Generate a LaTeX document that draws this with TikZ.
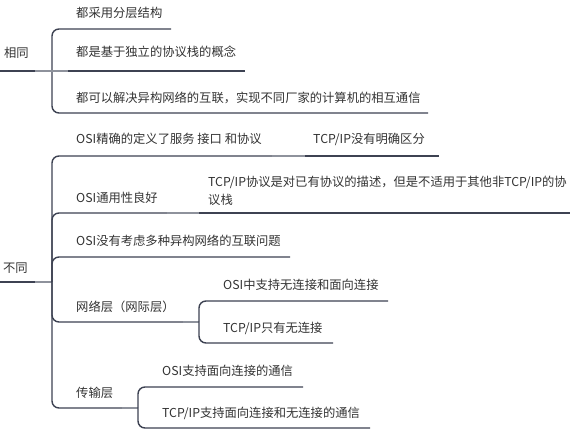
\documentclass[tikz,border=0pt]{standalone}
\usepackage{fontspec}
\setmainfont{Noto Sans CJK SC}
\definecolor{lc}{HTML}{3D4252}
\definecolor{lg}{HTML}{8E929C}
\definecolor{tc}{HTML}{333333}
\begin{document}
\begin{tikzpicture}[x=1pt,y=-1pt,
  txt/.style={anchor=base west,inner sep=0pt,text=tc,font=\fontsize{12.3}{18}\selectfont},
  ln/.style={draw=lc,line width=1.4pt},
  lk/.style={draw=lg,line width=1.4pt},
  br/.style={ln,rounded corners=7pt}]
\useasboundingbox (0,0) rectangle (571,430);
\fill[white] (0,0) rectangle (571,430);

% ---------- 相同 ----------
\node[txt] (s0) at (4,58) {相同};
\node[txt] (s1) at (76,18) {都采用分层结构};
\node[txt] (s2) at (76,57) {都是基于独立的协议栈的概念};
\node[txt] (s3) at (76,103) {都可以解决异构网络的互联，实现不同厂家的计算机的相互通信};

\coordinate (s0L) at (0,71);
\coordinate (s0R) at (35,71);
\coordinate (sJ) at (52,71);
\coordinate (s2J) at (68,71);
\coordinate (s1E) at (171,29);
\coordinate (s2E) at (245,71);
\coordinate (s3E) at (428,113);

\draw[ln] (s0L) -- (s0R);
\draw[br] (sJ) -- (sJ |- s1E) -- (s1E);
\draw[br] (sJ) -- (sJ |- s3E) -- (s3E);
\draw[ln] (s2J) -- (s2E);
\draw[lk] (s0R) -- (s2J);

% ---------- 不同 ----------
\node[txt] (d0) at (3,273) {不同};
\node[txt] (d1) at (76,144) {OSI精确的定义了服务 接口 和协议};
\node[txt] (d1a) at (313,144) {TCP/IP没有明确区分};
\node[txt] (d2) at (76,203) {OSI通用性良好};
\node[txt,anchor=west,align=left] (d2a) at (208,191) {TCP/IP协议是对已有协议的描述，但是不适用于其他非TCP/IP的协\\议栈};
\node[txt] (d3) at (76,246) {OSI没有考虑多种异构网络的互联问题};
\node[txt] (d4) at (76,312) {网络层（网际层）};
\node[txt] (d4a) at (223,290) {OSI中支持无连接和面向连接};
\node[txt] (d4b) at (223,333) {TCP/IP只有无连接};
\node[txt] (d5) at (76,398) {传输层};
\node[txt] (d5a) at (162,376) {OSI支持面向连接的通信};
\node[txt] (d5b) at (162,418) {TCP/IP支持面向连接和无连接的通信};

\coordinate (d0L) at (0,282);
\coordinate (d0R) at (35,282);
\coordinate (dJ) at (52,282);
\coordinate (d1E) at (272,156);
\coordinate (d1aS) at (305,156);
\coordinate (d1aE) at (439,156);
\coordinate (d2E) at (167,213);
\coordinate (d2aS) at (199,213);
\coordinate (d2aE) at (570,213);
\coordinate (d3E) at (290,257);
\coordinate (d4E) at (183,322);
\coordinate (d4J) at (199,322);
\coordinate (d4aE) at (388,301);
\coordinate (d4bE) at (333,343);
\coordinate (d5E) at (122,408);
\coordinate (d5J) at (138,408);
\coordinate (d5aE) at (303,387);
\coordinate (d5bE) at (370,428);

\draw[ln] (d0L) -- (d0R);
\draw[lk] (d0R) -- (dJ);
\draw[br] (dJ) -- (dJ |- d1E) -- (d1E);
\draw[br] (dJ) -- (dJ |- d2E) -- (d2E);
\draw[br] (dJ) -- (dJ |- d3E) -- (d3E);
\draw[br] (dJ) -- (dJ |- d4E) -- (d4E);
\draw[br] (dJ) -- (dJ |- d5E) -- (d5E);

\draw[lk] (d1E) -- (d1aS);
\draw[ln] (d1aS) -- (d1aE);
\draw[lk] (d2E) -- (d2aS);
\draw[ln] (d2aS) -- (d2aE);

\draw[lk] (d4E) -- (d4J);
\draw[br] (d4J) -- (d4J |- d4aE) -- (d4aE);
\draw[br] (d4J) -- (d4J |- d4bE) -- (d4bE);

\draw[lk] (d5E) -- (d5J);
\draw[br] (d5J) -- (d5J |- d5aE) -- (d5aE);
\draw[br] (d5J) -- (d5J |- d5bE) -- (d5bE);
\end{tikzpicture}
\end{document}
